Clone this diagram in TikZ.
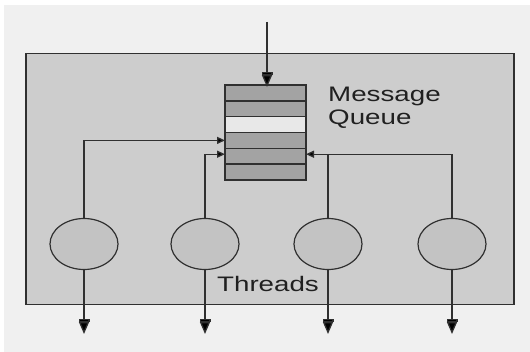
\documentclass[tikz,border=0pt]{standalone}
\usepackage{fontspec}
\setmainfont{Liberation Sans}
\usetikzlibrary{shapes.geometric,arrows.meta}
\definecolor{bgcol}{HTML}{F0F0F0}
\definecolor{boxcol}{HTML}{CDCDCD}
\definecolor{rowdark}{HTML}{A3A3A3}
\definecolor{rowlight}{HTML}{E8E8E8}
\definecolor{ellcol}{HTML}{C3C3C3}
\definecolor{linecol}{HTML}{303030}
\definecolor{txtcol}{HTML}{202020}
\tikzset{
  qrow/.style={draw=linecol, line width=1.3pt, fill=rowdark, minimum width=81pt, minimum height=15.8pt, inner sep=0pt, outer sep=0pt},
  thread/.style={ellipse, draw=linecol, line width=1.2pt, fill=ellcol, minimum width=68pt, minimum height=51pt, inner sep=0pt},
  conn/.style={draw=linecol, line width=1.3pt},
  bigtip/.style={-{Rectangle[length=3pt,width=11pt,fill=black]Triangle[length=12pt,width=10pt,fill=black]}},
  smalltip/.style={-{Triangle[length=8pt,width=7pt,fill=black]}},
  lbl/.style={text=txtcol, inner sep=0pt, font=\fontsize{21}{23}\selectfont},
}
\newcommand{\wide}[1]{\scalebox{1.32}[1]{#1}}
\begin{document}
\begin{tikzpicture}[x=1pt,y=-1pt]
\useasboundingbox (0,0) rectangle (530,352);
\fill[white] (0,0) rectangle (530,352);
\fill[bgcol] (4,5) rectangle (530,352);
% big box
\node[draw=linecol, line width=1.5pt, fill=boxcol, minimum width=488pt, minimum height=251pt, inner sep=0pt, anchor=north west] (box) at (25,53) {};
% queue rows
\node[qrow] (q1) at (265.5,93) {};
\node[qrow] (q2) at (265.5,108.8) {};
\node[qrow, fill=rowlight] (q3) at (265.5,124.6) {};
\node[qrow] (q4) at (265.5,140.4) {};
\node[qrow] (q5) at (265.5,156.2) {};
\node[qrow] (q6) at (265.5,172) {};
\coordinate (ql) at ([yshift=2pt]q5.west);
\coordinate (qr) at ([yshift=2pt]q5.east);
% labels
\node[lbl, anchor=base west] (mq1) at (328,102) {\wide{Message}};
\node[lbl, anchor=base west] (mq2) at (328,125) {\wide{Queue}};
\node[lbl, anchor=base] (thr) at (268,292) {\wide{Threads}};
% threads
\node[thread] (t1) at (84,244) {};
\node[thread] (t2) at (205,244) {};
\node[thread] (t3) at (328,244) {};
\node[thread] (t4) at (452,244) {};
% top arrow
\coordinate (src) at (267,22);
\draw[conn, bigtip] (src) -- ([yshift=-2pt]src |- q1.north);
% connectors into queue
\draw[conn, smalltip] (t1.north) |- (q4.west);
\draw[conn, smalltip] (t2.north) |- (ql);
\draw[conn, smalltip] (t4.north) |- (qr);
\draw[conn] (t3.north) -- (t3.north |- qr);
% outputs
\coordinate (o1) at (84,334);
\coordinate (o2) at (205,334);
\coordinate (o3) at (328,334);
\coordinate (o4) at (452,334);
\draw[conn, bigtip] (t1.south) -- (o1);
\draw[conn, bigtip] (t2.south) -- (o2);
\draw[conn, bigtip] (t3.south) -- (o3);
\draw[conn, bigtip] (t4.south) -- (o4);
\end{tikzpicture}
\end{document}
